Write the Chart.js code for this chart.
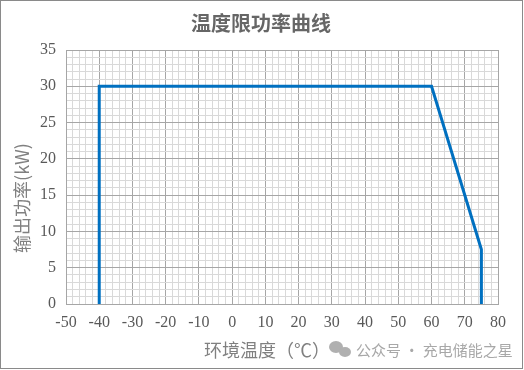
<!DOCTYPE html>
<html lang="zh-CN">
<head>
  <meta charset="utf-8">
  <title>温度限功率曲线</title>
  <script src="https://cdn.jsdelivr.net/npm/chart.js"></script>
  <style>
    body { margin: 0; background: #fff; }
    #wrap { position: relative; width: 524px; height: 370px; }
  </style>
</head>
<body>
<div id="wrap"><canvas id="c" width="524" height="370"></canvas></div>

<script>
  // power derating curve: ambient temperature vs output power
  const temps = [-40, -40, 60, 75, 75];
  const power = [0, 30, 30, 7.5, 0];

  const xMin = -50, xMax = 80;
  const yMin = 0, yMax = 35;

  const titleText = '温度限功率曲线';
  const yTitle = '输出功率(kW)';
  const xTitle = '环境温度（℃）';
  const mark = '公众号 · 充电储能之星';

  const majorGrid = '#a6a6a6';
  const minorGrid = '#d9d9d9';
  const tickFont = { family: '"Liberation Serif", serif', size: 16 };

  // titles, frame and watermark drawn on top of the canvas
  const extras = {
    id: 'extras',
    afterDraw(chart) {
      const c = chart.ctx;
      c.save();
      c.strokeStyle = '#8a8a8a';
      c.lineWidth = 1;
      c.strokeRect(0.5, 0.5, 522, 368);

      c.fillStyle = '#666666';
      c.font = 'bold 20px "Noto Sans CJK SC", sans-serif';
      c.textAlign = 'center';
      c.textBaseline = 'middle';
      c.fillText(titleText, 261, 23);

      c.fillStyle = '#808080';
      c.font = '18px "Noto Sans CJK SC", sans-serif';
      c.fillText(xTitle, 267, 350);

      c.save();
      c.translate(22, 198);
      c.rotate(-Math.PI / 2);
      c.fillText(yTitle, 0, 0);
      c.restore();

      // watermark with a little chat icon
      c.fillStyle = '#b0b0b0';
      c.beginPath();
      c.ellipse(336, 347, 7, 6, 0, 0, Math.PI * 2);
      c.fill();
      c.beginPath();
      c.ellipse(345, 352, 6, 5, 0, 0, Math.PI * 2);
      c.fill();
      c.fillStyle = '#a8a8a8';
      c.font = '15px "Noto Sans CJK SC", sans-serif';
      c.textAlign = 'left';
      c.fillText(mark, 356, 350);
      c.restore();
    }
  };

  new Chart(document.getElementById('c'), {
    type: 'scatter',
    data: {
      datasets: [{
        data: temps.map((t, i) => ({ x: t, y: power[i] })),
        showLine: true,
        borderColor: '#0070c0',
        borderWidth: 3,
        pointRadius: 0,
        fill: false,
        tension: 0
      }]
    },
    options: {
      responsive: false,
      animation: false,
      layout: { padding: { top: 50, right: 26, left: 0, bottom: 0 } },
      plugins: { legend: { display: false }, tooltip: { enabled: false } },
      scales: {
        x: {
          type: 'linear',
          min: xMin,
          max: xMax,
          afterFit: s => { s.height = 66; },
          ticks: {
            stepSize: 2,
            autoSkip: false,
            maxRotation: 0,
            padding: 9,
            color: '#595959',
            font: tickFont,
            callback: v => (Math.round(v) % 10 === 0 ? String(Math.round(v)) : '')
          },
          grid: {
            drawTicks: false,
            color: ctx => (Math.round(ctx.tick.value) % 10 === 0 ? majorGrid : minorGrid)
          },
          border: { color: majorGrid }
        },
        y: {
          min: yMin,
          max: yMax,
          afterFit: s => { s.width = 66; },
          ticks: {
            stepSize: 1,
            autoSkip: false,
            padding: 10,
            color: '#595959',
            font: tickFont,
            callback: v => (Math.round(v) % 5 === 0 ? String(Math.round(v)) : '')
          },
          grid: {
            drawTicks: false,
            color: ctx => (Math.round(ctx.tick.value) % 5 === 0 ? majorGrid : minorGrid)
          },
          border: { color: majorGrid }
        }
      }
    },
    plugins: [extras]
  });
</script>
</body>
</html>
